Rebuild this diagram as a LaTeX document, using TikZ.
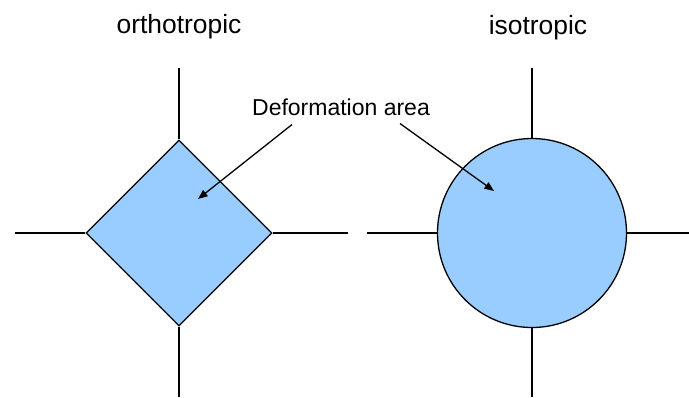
\documentclass[tikz,border=0pt]{standalone}
\usepackage{fontspec}
\setmainfont{Liberation Sans}
\usetikzlibrary{shapes.geometric, arrows.meta, positioning}
\definecolor{areablue}{RGB}{153,204,255}

\begin{document}
\begin{tikzpicture} [
        x = 0.5pt, y = -0.5pt,
        line width = 0.65pt,
        area/.style = {draw, fill=areablue, inner sep=0pt},
        pointer/.style = {draw, -{Triangle[length=4.8pt, width=3.8pt]}},
        title/.style = {font=\fontsize{13.2}{15}\selectfont, anchor=base},
        callout/.style = {font=\fontsize{11.5}{14}\selectfont, anchor=base}
    ]
    \useasboundingbox (0,0) rectangle (689,397);

    % the two deformation areas
    \node[area, diamond, minimum width=93pt, minimum height=93pt] (ortho) at (179,233) {};
    \node[area, circle, minimum size=94.5pt]                      (iso)   at (532,233) {};

    \node[title] (orthotitle) at (179,33) {orthotropic};
    \node[title] (isotitle)   at (538,34) {isotropic};

    % axes
    \coordinate (ortho n) at (179,68);  \coordinate (ortho s) at (179,397);
    \coordinate (ortho w) at (15,233);  \coordinate (ortho e) at (348,233);
    \coordinate (iso n)   at (532,68);  \coordinate (iso s)   at (532,397);
    \coordinate (iso w)   at (367,233); \coordinate (iso e)   at (689,233);

    \draw (ortho n) -- (ortho.north);  \draw (ortho.south) -- (ortho s);
    \draw (ortho w) -- (ortho.west);   \draw (ortho.east) -- (ortho e);
    \draw (iso n) -- (iso.north);      \draw (iso.south) -- (iso s);
    \draw (iso w) -- (iso.west);       \draw (iso.east) -- (iso e);

    % callout
    \node[callout] (defarea) at (341,115) {Deformation area};
    \coordinate (orthotip) at (198,199);
    \coordinate (isotip)   at (494,191);

    \path[pointer] ([xshift=-24.5pt, yshift=-1pt]defarea.south) -- (orthotip);
    \path[pointer] ([xshift=29.5pt, yshift=-0.5pt]defarea.south) -- (isotip);

\end{tikzpicture}
\end{document}
